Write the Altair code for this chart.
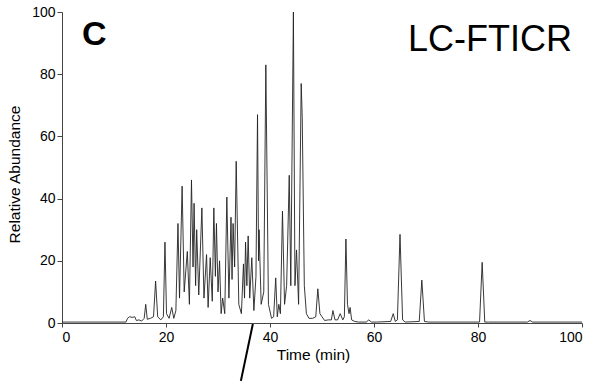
import altair as alt
import pandas as pd

time_min = [0, 12.3, 12.6, 13.0, 13.5, 14.0, 14.3, 14.8, 15.3, 15.8, 16.1, 16.4, 17.0, 17.6,
            18.0, 18.4, 19.0, 19.5, 19.8, 20.1, 20.6, 21.1, 21.5, 21.9, 22.3, 22.6, 23.1, 23.5,
            24.1, 24.5, 24.9, 25.2, 25.4, 25.7, 25.9, 26.3, 26.9, 27.3, 27.8, 28.1, 28.5, 28.9,
            29.2, 29.5, 29.7, 30.0, 30.3, 30.6, 30.9, 31.3, 31.7, 32.1, 32.5, 32.7, 32.9, 33.2,
            33.5, 34.0, 34.5, 34.9, 35.1, 35.3, 35.55, 35.8, 36.1, 36.5, 36.9, 37.3, 37.6, 37.8,
            37.9, 38.3, 38.8, 39.2, 39.7, 40.3, 40.7, 41.1, 41.4, 41.7, 42.0, 42.4, 42.8, 43.2,
            43.7, 44.0, 44.5, 44.8, 45.1, 45.5, 46.0, 46.2, 46.6, 47.0, 47.5, 48.2, 48.8, 49.2,
            49.6, 50.0, 50.5, 51.2, 51.8, 52.1, 52.5, 53.0, 53.5, 54.0, 54.3, 54.6, 54.9, 55.2,
            55.4, 55.7, 56.3, 57.0, 58.5, 59.0, 59.5, 60.5, 63.2, 63.7, 64.1, 64.5, 65.0, 65.5,
            66.0, 68.7, 69.2, 69.7, 70.5, 80.3, 80.8, 81.3, 82.0, 89.5, 90.0, 90.5, 100]
abundance = [0.3, 0.3, 1.5, 2.0, 1.8, 2.0, 0.8, 1.0, 0.6, 1.5, 6.0, 1.2, 1.5, 2.0,
             13.5, 2.0, 1.0, 2.0, 26, 3.0, 1.5, 5.0, 1.5, 4.0, 32, 8, 44, 10,
             23, 6, 46, 18, 38.5, 12, 30, 9, 37, 8, 22, 5, 21, 7,
             37, 15, 32, 10, 20, 3, 8, 3, 40.5, 8, 34, 14, 32, 18,
             52, 6, 3, 19, 8, 26, 12, 28, 8, 21, 4, 15, 67, 20,
             30, 6, 10, 83, 6, 1.5, 2, 14.5, 2, 6, 3, 36, 6, 12,
             47.5, 12, 100, 12, 23.5, 6, 77, 66, 12, 3, 1.5, 1.5, 2, 11,
             3, 2, 0.8, 1, 1, 4, 1, 1, 3, 1, 2, 27, 6, 3,
             5, 1, 0.5, 0.3, 0.3, 1, 0.3, 0.3, 0.5, 3, 0.5, 1, 28.5, 1,
             0.3, 0.5, 13.8, 0.5, 0.3, 0.3, 19.5, 0.3, 0.3, 0.3, 0.8, 0.3, 0.3]

x_ticks = [0, 20, 40, 60, 80, 100]
y_ticks = [0, 20, 40, 60, 80, 100]

pointer_x = [34.4, 36.7]
pointer_y = [-18.6, -0.3]

FONT = "Liberation Sans"

trace = pd.DataFrame({"t": time_min, "a": abundance, "o": list(range(len(time_min)))})
pointer = pd.DataFrame({"t": pointer_x, "a": pointer_y})

xscale = alt.Scale(domain=[0, 100], nice=False, zero=False)
yscale = alt.Scale(domain=[0, 100], nice=False)

line = alt.Chart(trace).mark_line(color="#222222", strokeWidth=0.9, clip=False).encode(
    x=alt.X("t:Q", scale=xscale,
            axis=alt.Axis(title="Time (min)", values=x_ticks, format="d", tickSize=4,
                          labelPadding=3, titlePadding=3, titleX=251)),
    y=alt.Y("a:Q", scale=yscale,
            axis=alt.Axis(title="Relative Abundance", values=y_ticks, format="d",
                          tickSize=5, labelPadding=2, titlePadding=9, titleY=162)),
    order="o:Q",
)

ptr = alt.Chart(pointer).mark_line(color="black", strokeWidth=2, clip=False).encode(
    x=alt.X("t:Q", scale=xscale), y=alt.Y("a:Q", scale=yscale)
)

panel = alt.Chart(pd.DataFrame({"label": ["C"]})).mark_text(
    font=FONT, fontSize=34, fontWeight="bold", align="left", baseline="alphabetic", color="black"
).encode(x=alt.value(20), y=alt.value(33), text="label:N")

method = alt.Chart(pd.DataFrame({"label": ["LC-FTICR"]})).mark_text(
    font=FONT, fontSize=36, align="right", baseline="alphabetic", color="black"
).encode(x=alt.value(510), y=alt.value(39), text="label:N")

chart = alt.layer(line, ptr, panel, method).properties(
    width=520, height=311,
    autosize=alt.AutoSizeParams(type="none"),
    padding={"left": 62, "top": 12, "right": 15, "bottom": 58},
).configure_view(stroke=None).configure_axis(
    grid=False, domainColor="#444", tickColor="#444", labelColor="black", titleColor="black",
    labelFont=FONT, titleFont=FONT, labelFontSize=14, titleFontSize=15.5, titleFontWeight="normal",
    domainWidth=1, tickWidth=1,
)

chart.save("out.html", embed_options={"renderer": "svg", "actions": False})
